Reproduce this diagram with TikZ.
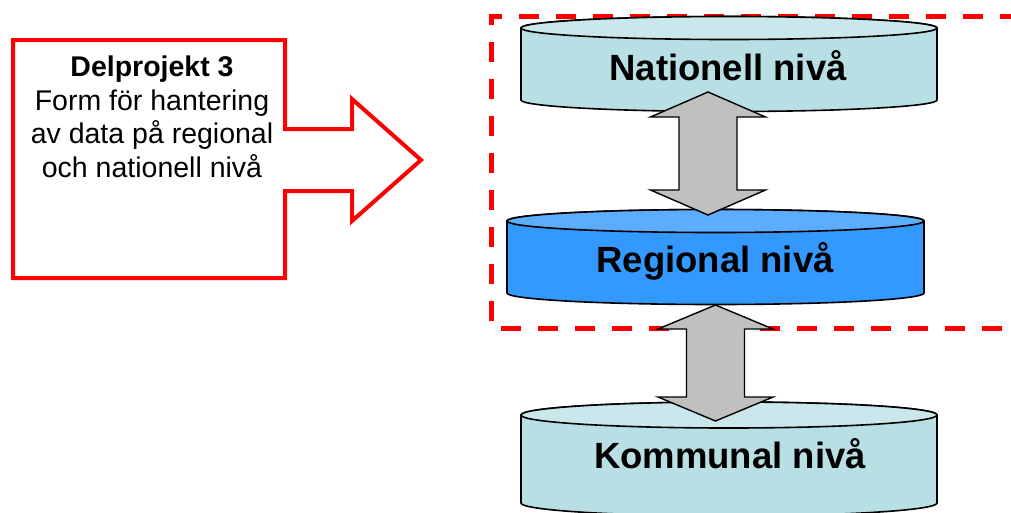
\documentclass[tikz,border=0pt]{standalone}
\usepackage{fontspec}
\setmainfont{Liberation Sans}
\definecolor{calloutred}{RGB}{255,0,0}
\definecolor{paleBody}{RGB}{184,223,227}
\definecolor{paleTop}{RGB}{202,232,235}
\definecolor{blueBody}{RGB}{51,153,255}
\definecolor{blueTop}{RGB}{92,173,255}
\definecolor{arrowgray}{RGB}{192,192,192}

% disk-shaped store: left x, right x, top y, bottom y, ellipse radius, body colour, lid colour
\newcommand\leveldisk[7]{%
  \filldraw[fill=#6, diskline]
    (#1,#3) -- (#1,#4)
    arc[start angle=180, end angle=0, x radius={(#2-#1)/2}, y radius=#5]
    -- (#2,#3)
    arc[start angle=0, end angle=-180, x radius={(#2-#1)/2}, y radius=#5] -- cycle;
  \filldraw[fill=#7, diskline] ({(#1+#2)/2},#3) ellipse [x radius={(#2-#1)/2}, y radius=#5];
}
% vertical two-headed block arrow: centre x, top tip y, bottom tip y, head half width, shaft half width, head length
\newcommand\twowayarrow[6]{%
  \filldraw[blockarrow]
    (#1,#2) -- ({#1+#4},{#2+#6}) -- ({#1+#5},{#2+#6}) -- ({#1+#5},{#3-#6})
    -- ({#1+#4},{#3-#6}) -- (#1,#3) -- ({#1-#4},{#3-#6}) -- ({#1-#5},{#3-#6})
    -- ({#1-#5},{#2+#6}) -- ({#1-#4},{#2+#6}) -- cycle;
}

\tikzset{
  diskline/.style={draw=black, line width=1.6pt},
  blockarrow/.style={fill=arrowgray, draw=black, line width=1.4pt, line join=miter},
  regionline/.style={draw=calloutred, line width=5pt, dash pattern=on 20pt off 17pt},
  levellabel/.style={anchor=base, inner sep=0pt, font=\fontsize{36.5}{40}\selectfont\bfseries},
  callouttext/.style={anchor=north, inner sep=0pt, align=center, font=\fontsize{28.5}{33.5}\selectfont},
}

\begin{document}
\begin{tikzpicture}[x=1pt, y=-1pt]
  \clip (0,0) rectangle (1011,512);
  \fill[white] (0,0) rectangle (1011,512);

  % callout arrow pointing at the regional/national part
  \draw[calloutred, line width=4pt, line join=miter]
    (13,40) -- (285,40) -- (285,129) -- (352,129) -- (352,99) -- (421,160)
    -- (352,221) -- (352,191) -- (285,191) -- (285,278) -- (13,278) -- cycle;
  \node[callouttext] (dp) at (152,56)
    {\textbf{Delprojekt 3}\\Form för hantering\\av data på regional\\och nationell nivå};

  % dashed frame around national and regional level
  \draw[regionline, dash phase=6.5pt] (488.5,16) -- (1040,16);
  \draw[regionline, dash phase=11pt] (491,16) -- (491,328) -- (1040,328);

  % the three levels
  \leveldisk{521}{937}{28}{100}{11.5}{paleBody}{paleTop}
  \node[levellabel] (nat) at (728,80) {Nationell nivå};

  \leveldisk{507}{924}{221}{293}{11.5}{blueBody}{blueTop}
  \node[levellabel] (reg) at (715,272) {Regional nivå};

  \leveldisk{521}{937}{415}{503}{13}{paleBody}{paleTop}
  \node[levellabel] (kom) at (730,468) {Kommunal nivå};

  % exchange between the levels
  \twowayarrow{708}{92}{215}{57.5}{29}{25}
  \twowayarrow{715.5}{305}{421}{57.5}{29}{24}
\end{tikzpicture}
\end{document}
